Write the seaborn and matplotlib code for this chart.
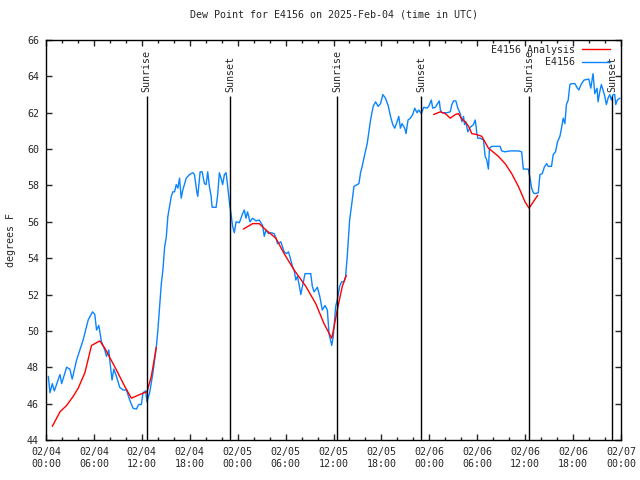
import pandas as pd
import matplotlib
matplotlib.use('Agg')
import matplotlib.pyplot as plt
import matplotlib.dates as mdates
import seaborn as sns

# hours after 2025-02-04 00:00 UTC and dew point (F)
e4156_hours = [0.29, 0.50, 0.79, 1.04, 1.75, 1.96, 2.58, 2.99, 3.28, 3.83, 4.65, 5.28, 5.83,
               6.11, 6.33, 6.61, 6.95, 7.36, 7.57, 7.86, 8.07, 8.27, 8.49, 8.82, 9.23, 9.65,
               10.07, 10.48, 10.89, 11.32, 11.60, 11.94, 12.14, 12.48, 12.64, 12.98, 13.39,
               13.81, 14.01, 14.23, 14.44, 14.64, 14.85, 15.06, 15.26, 15.47, 15.69, 15.88,
               16.10, 16.31, 16.51, 16.72, 16.93, 17.13, 17.56, 17.97, 18.38, 18.59, 18.88,
               19.00, 19.30, 19.55, 19.84, 20.05, 20.25, 20.46, 20.68, 20.80, 21.30, 21.50,
               21.71, 21.92, 22.12, 22.34, 22.55, 22.75, 22.96, 23.17, 23.37, 23.58, 23.80,
               24.21, 24.62, 24.83, 25.04, 25.24, 25.54, 25.87, 26.29, 26.70, 27.12, 27.33,
               27.54, 27.86, 28.16, 28.57, 28.79, 28.99, 29.41, 29.82, 30.11, 30.36, 30.53,
               30.86, 31.07, 31.28, 31.48, 31.69, 31.91, 32.11, 32.44, 33.15, 33.35, 33.57,
               33.98, 34.28, 34.60, 34.94, 35.23, 35.44, 35.78, 35.97, 36.19, 36.27, 36.47,
               36.77, 37.02, 37.31, 37.52, 37.72, 38.02, 38.35, 38.56, 38.77, 39.18, 39.39,
               39.59, 39.93, 40.22, 40.64, 40.97, 41.27, 41.59, 41.89, 42.18, 42.51, 42.84,
               43.14, 43.42, 43.67, 43.96, 44.17, 44.38, 44.58, 44.92, 45.08, 45.33, 45.63,
               45.92, 46.17, 46.46, 46.67, 47.00, 47.29, 47.70, 47.92, 48.25, 48.42, 48.75,
               48.95, 49.25, 49.38, 49.58, 50.20, 50.62, 50.82, 51.04, 51.32, 51.57, 51.87,
               52.07, 52.28, 52.41, 52.57, 52.82, 53.12, 53.53, 53.74, 53.87, 53.94, 54.07,
               54.37, 54.78, 54.99, 55.19, 55.40, 55.53, 55.81, 56.86, 57.06, 57.49, 58.11,
               59.15, 59.56, 59.77, 60.39, 60.61, 60.81, 61.02, 61.23, 61.64, 61.85, 62.14,
               62.39, 62.68, 62.89, 63.30, 63.51, 63.80, 64.05, 64.35, 64.55, 64.76, 64.97,
               65.17, 65.39, 65.60, 65.80, 66.22, 66.55, 66.72, 67.05, 67.38, 67.97, 68.22,
               68.50, 68.72, 69.00, 69.13, 69.34, 69.54, 69.75, 69.97, 70.17, 70.38, 70.59,
               70.79, 71.00, 71.21, 71.34, 71.54, 71.87]
e4156_dewpt = [47.5, 46.6, 47.1, 46.7, 47.6, 47.1, 48.0, 47.9, 47.35, 48.4, 49.5, 50.6, 51.05,
               50.9, 50.05, 50.3, 49.4, 48.95, 48.6, 48.95, 48.05, 47.3, 47.9, 47.5, 46.9, 46.75,
               46.75, 46.2, 45.75, 45.7, 45.95, 45.95, 46.6, 46.7, 46.1, 46.6, 47.7,
               49.1, 50.05, 51.35, 52.6, 53.35, 54.6, 55.15, 56.3, 56.85, 57.4, 57.65,
               57.65, 58.05, 57.85, 58.4, 57.3, 57.75, 58.4, 58.6, 58.7, 58.6, 57.65,
               57.4, 58.75, 58.75, 58.1, 58.05, 58.75, 57.95, 57.4, 56.8, 56.8, 57.5,
               58.7, 58.4, 58.05, 58.6, 58.7, 57.95, 57.1, 56.4, 55.75, 55.4, 56.0,
               55.95, 56.45, 56.65, 56.2, 56.55, 56.0, 56.2, 56.05, 56.1, 55.8, 55.2,
               55.55, 55.35, 55.4, 55.35, 55.1, 54.8, 54.9, 54.35, 54.25, 54.35, 54.1,
               53.55, 53.35, 52.8, 53.0, 52.55, 52.0, 52.45, 53.15, 53.15, 52.45, 52.15,
               52.4, 51.9, 51.15, 51.4, 51.15, 49.85, 49.2, 49.7, 50.9, 51.35, 51.7,
               52.45, 52.7, 52.7, 53.0, 54.1, 56.1, 57.2, 57.95, 58.0, 58.1, 58.7,
               59.05, 59.75, 60.3, 61.6, 62.35, 62.6, 62.35, 62.5, 63.0, 62.8, 62.4,
               61.8, 61.35, 61.15, 61.5, 61.8, 61.15, 61.4, 61.15, 60.85, 61.6, 61.7,
               61.9, 62.25, 62.0, 62.15, 61.95, 62.3, 62.25, 62.35, 62.7, 62.25, 62.3,
               62.45, 62.65, 62.15, 62.0, 62.0, 62.05, 62.45, 62.65, 62.65, 62.25, 61.95,
               61.5, 61.8, 61.35, 61.5, 60.95, 61.2, 61.35, 61.6, 61.2, 60.85, 60.6,
               60.6, 60.5, 59.6, 59.4, 58.9, 60.05, 60.15, 60.15, 59.9, 59.85, 59.9,
               59.9, 59.85, 58.9, 58.9, 58.4, 57.85, 57.6, 57.55, 57.6, 58.6, 58.65,
               59.0, 59.2, 59.05, 59.05, 59.7, 59.85, 60.4, 60.7, 61.15, 61.7, 61.4,
               62.45, 62.7, 63.55, 63.6, 63.6, 63.35, 63.25, 63.6, 63.8, 63.85, 63.35,
               64.15, 63.05, 63.35, 62.6, 63.15, 63.55, 63.25, 62.9, 62.45, 62.8, 63.0,
               62.7, 63.0, 63.0, 62.45, 62.7, 62.8]

# analysis, three overnight segments
anl_hours_1 = [0.79, 1.75, 2.58, 3.41, 4.03, 4.87, 5.70, 6.74, 7.36, 8.82, 9.86, 10.69,
               11.73, 12.64, 13.19, 13.81]
anl_dewpt_1 = [44.75, 45.55, 45.9, 46.4, 46.85, 47.7, 49.2, 49.45, 49.05, 47.85, 46.95, 46.3,
               46.5, 46.65, 47.5, 49.1]
anl_hours_2 = [24.71, 25.87, 26.70, 27.54, 28.79, 29.82, 31.07, 32.53, 33.78, 34.81, 35.53,
               35.78, 36.06, 36.47, 37.10, 37.60]
anl_dewpt_2 = [55.6, 55.9, 55.9, 55.55, 55.1, 54.25, 53.35, 52.45, 51.5, 50.4, 49.8,
               49.6, 50.2, 51.15, 52.45, 53.05]
anl_hours_3 = [48.54, 49.38, 50.0, 50.62, 51.25, 51.66, 52.07, 52.50, 52.91, 53.32, 53.94,
               54.57, 55.40, 56.65, 57.49, 58.31, 59.15, 59.98, 60.48, 61.02, 61.56]
anl_dewpt_3 = [61.9, 62.05, 61.95, 61.7, 61.9, 61.95, 61.65, 61.5, 61.25, 60.85, 60.8,
               60.7, 60.05, 59.6, 59.2, 58.65, 57.95, 57.1, 56.75, 57.1, 57.45]

sun_hours = [12.62, 23.09, 36.47, 46.96, 60.48, 70.91]
sun_labels = ['Sunrise', 'Sunset', 'Sunrise', 'Sunset', 'Sunrise', 'Sunset']

base = pd.Timestamp('2025-02-04 00:00')


def to_time(hours):
    return base + pd.to_timedelta(pd.Series(hours), unit='h')


obs = pd.DataFrame({'time': to_time(e4156_hours), 'dewpt': e4156_dewpt})
anl = pd.concat([
    pd.DataFrame({'time': to_time(h), 'dewpt': v, 'seg': i})
    for i, (h, v) in enumerate([(anl_hours_1, anl_dewpt_1),
                                (anl_hours_2, anl_dewpt_2),
                                (anl_hours_3, anl_dewpt_3)])
], ignore_index=True)

sns.set_style('ticks')
plt.rcParams['font.family'] = ['DejaVu Sans Mono', 'DejaVu Sans']
plt.rcParams['font.size'] = 7.2

fig = plt.figure(figsize=(6.4, 4.8), dpi=100)
ax = fig.add_axes([46 / 640, 40 / 480, 575 / 640, 400 / 480])

sns.lineplot(data=obs, x='time', y='dewpt', color='#0a84ff', lw=1.0, ax=ax,
             estimator=None, sort=False)
sns.lineplot(data=anl, x='time', y='dewpt', units='seg', color='#ff0000', lw=1.0, ax=ax,
             estimator=None, sort=False)

for h, lab in zip(sun_hours, sun_labels):
    t = to_time([h])[0]
    ax.vlines(t, 44, 62.9, color='black', lw=1.0)
    ax.text(t, 63.15, lab, rotation=90, ha='center', va='bottom', fontsize=7.2)

ax.set_xlim(base, base + pd.Timedelta(hours=72))
ax.set_ylim(44, 66)
ax.set_yticks(range(44, 67, 2))
ax.xaxis.set_major_locator(mdates.HourLocator(byhour=range(0, 24, 6)))
ax.xaxis.set_minor_locator(mdates.HourLocator(byhour=range(0, 24, 2)))
ax.xaxis.set_major_formatter(mdates.DateFormatter('%m/%d\n%H:%M'))
ax.tick_params(which='both', direction='in', top=True, right=True, labelsize=7.2, width=1.0)
ax.tick_params(which='major', length=4.5, pad=5)
ax.tick_params(which='minor', length=2.5)
for s in ax.spines.values():
    s.set_linewidth(1.0)
    s.set_color('black')

ax.set_xlabel('')
ax.set_ylabel('degrees F', fontsize=7.2, labelpad=8)
ax.set_title('Dew Point for E4156 on 2025-Feb-04 (time in UTC)', fontsize=7.2, pad=16)

handles = [plt.Line2D([], [], color='#ff0000', lw=1.0),
           plt.Line2D([], [], color='#0a84ff', lw=1.0)]
ax.legend(handles, ['E4156 Analysis', 'E4156'], loc='upper right', frameon=False,
          bbox_to_anchor=(0.981, 0.988), markerfirst=False, handlelength=2.8,
          handletextpad=0.7, labelspacing=0.25, borderaxespad=0, borderpad=0,
          fontsize=7.2)

fig.savefig('out.png', dpi=100)
